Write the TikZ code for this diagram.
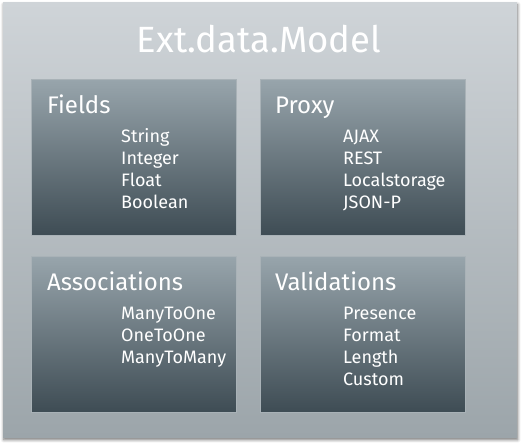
\documentclass[tikz,border=0pt]{standalone}
\usepackage{fontspec}
\setmainfont{Fira Sans}
\usetikzlibrary{shadows.blur}
\definecolor{outertop}{HTML}{CFD4D8}
\definecolor{outerbot}{HTML}{9CA5AA}
\definecolor{innertop}{HTML}{98A5AC}
\definecolor{innerbot}{HTML}{3E4C54}
\definecolor{innerline}{HTML}{A9B2B7}
\begin{document}
\begin{tikzpicture}[x=1pt,y=-1pt,
  outerbox/.style={top color=outertop, bottom color=outerbot,
    minimum width=514pt, minimum height=435pt, anchor=north west, inner sep=0pt,
    blur shadow={shadow xshift=0.5pt, shadow yshift=-2.5pt, shadow blur radius=3pt, shadow opacity=55}},
  panel/.style={draw=innerline, line width=0.5pt, top color=innertop, bottom color=innerbot,
    minimum width=205pt, minimum height=156pt, anchor=north west, inner sep=0pt},
  titletext/.style={text=white, font=\fontsize{36.5}{40}\selectfont, anchor=base, inner sep=0pt},
  headtext/.style={text=white, font=\fontsize{24}{30}\selectfont, anchor=base west, inner sep=0pt},
  itemtext/.style={text=white, font=\fontsize{18}{22}\selectfont, anchor=base west, inner sep=0pt}]
\useasboundingbox (0,0) rectangle (524,445);
\node[outerbox] (outer) at (3,2) {};
\node[titletext] (title) at (259,52) {Ext.data.Model};

\node[panel] (fields) at (31,79) {};
\node[panel] (proxy) at (260,79) {};
\node[panel] (assoc) at (31,256) {};
\node[panel] (valid) at (260,256) {};

\node[headtext] (hfields) at (47,113) {Fields};
\node[headtext] (hproxy) at (275,113) {Proxy};
\node[headtext] (hassoc) at (47,290) {Associations};
\node[headtext] (hvalid) at (275,290) {Validations};

\foreach \t [count=\i] in {String,Integer,Float,Boolean}
  \node[itemtext] (f\i) at (121,{142+22*(\i-1)}) {\t};
\foreach \t [count=\i] in {AJAX,REST,Localstorage,JSON-P}
  \node[itemtext] (p\i) at (343,{142+22*(\i-1)}) {\t};
\foreach \t [count=\i] in {ManyToOne,OneToOne,ManyToMany}
  \node[itemtext] (a\i) at (121,{319+22*(\i-1)}) {\t};
\foreach \t [count=\i] in {Presence,Format,Length,Custom}
  \node[itemtext] (v\i) at (343,{319+22*(\i-1)}) {\t};
\end{tikzpicture}
\end{document}
